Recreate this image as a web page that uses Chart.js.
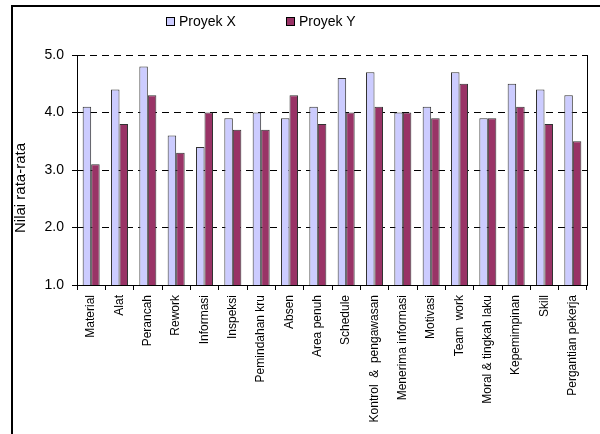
<!DOCTYPE html>
<html>
<head>
<meta charset="utf-8">
<script src="https://cdn.jsdelivr.net/npm/chart.js@4"></script>
<style>
    body { margin: 0; background: #fff; width: 600px; height: 434px; overflow: hidden; position: relative; font-family: "Liberation Sans", Arial, sans-serif; }
    #frame { position: absolute; left: 11px; top: 5px; width: 700px; height: 600px; border: 2px solid #000; }
    #wrap { position: absolute; left: 0; top: 0; width: 600px; height: 434px; }
    .leg { position: absolute; top: 13px; font-size: 14px; color: #000; line-height: 16px; }
    .leg .box { position: absolute; top: 4px; width: 7px; height: 7px; border: 1px solid #000; }
</style>
</head>
<body>
<div id="frame"></div>
<div id="wrap"><canvas id="grafik" width="600" height="434"></canvas></div>
<div class="leg" style="left:166px"><span class="box" style="background:#CCCCFF"></span><span style="margin-left:13px">Proyek X</span></div>
<div class="leg" style="left:286px"><span class="box" style="background:#993366"></span><span style="margin-left:13px">Proyek Y</span></div>
<script>
    const kategori = ["Material", "Alat", "Perancah", "Rework", "Informasi", "Inspeksi", "Pemindahan kru", "Absen", "Area penuh",
        "Schedule", "Kontrol  &  pengawasan", "Menerima informasi", "Motivasi", "Team  work", "Moral & tingkah laku",
        "Kepemimpinan", "Skill", "Pergantian pekerja"];
    const proyekX = [4.1, 4.4, 4.8, 3.6, 3.4, 3.9, 4.0, 3.9, 4.1, 4.6, 4.7, 4.0, 4.1, 4.7, 3.9, 4.5, 4.4, 4.3];
    const proyekY = [3.1, 3.8, 4.3, 3.3, 4.0, 3.7, 3.7, 4.3, 3.8, 4.0, 4.1, 4.0, 3.9, 4.5, 3.9, 4.1, 3.8, 3.5];
    const tickY = [1.0, 2.0, 3.0, 4.0, 5.0];

    const fontNama = '"Liberation Sans", Arial, sans-serif';

    // garis tepi kanan area plot + judul sumbu Y
    const hiasan = {
        id: "hiasan",
        afterDraw(chart) {
            const a = chart.chartArea;
            const c = chart.ctx;
            c.save();
            c.strokeStyle = "#000";
            c.lineWidth = 1;
            c.beginPath();
            c.moveTo(Math.round(a.right) + 0.5, a.top);
            c.lineTo(Math.round(a.right) + 0.5, a.bottom);
            c.stroke();
            c.translate(21, 188);
            c.rotate(-Math.PI / 2);
            c.fillStyle = "#000";
            c.font = "15px " + fontNama;
            c.textAlign = "center";
            c.textBaseline = "middle";
            c.fillText("Nilai rata-rata", 0, 0);
            c.restore();
        }
    };

    const ctx = document.getElementById("grafik").getContext("2d");
    new Chart(ctx, {
        type: "bar",
        data: {
            labels: kategori,
            datasets: [
                { label: "Proyek X", data: proyekX, backgroundColor: "#CCCCFF", borderColor: "#333", borderWidth: 1 },
                { label: "Proyek Y", data: proyekY, backgroundColor: "#993366", borderColor: "#333", borderWidth: 1 }
            ]
        },
        options: {
            responsive: false,
            animation: false,
            events: [],
            categoryPercentage: 0.6,
            barPercentage: 1.0,
            layout: { padding: { top: 55, right: 13, bottom: 0, left: 0 } },
            plugins: { legend: { display: false }, tooltip: { enabled: false } },
            scales: {
                x: {
                    afterFit(s) { s.height = 149; },
                    grid: { drawOnChartArea: false, tickLength: 5, color: "#000", tickColor: "#000" },
                    border: { color: "#000", width: 1 },
                    ticks: {
                        color: "#000", font: { family: fontNama, size: 12 },
                        minRotation: 90, maxRotation: 90, autoSkip: false, padding: 5
                    }
                },
                y: {
                    min: 1, max: 5,
                    afterFit(s) { s.width = 77; },
                    afterBuildTicks(s) { s.ticks = tickY.map(v => ({ value: v })); },
                    grid: {
                        color: c => (c.tick && c.tick.value === 1) ? "rgba(0,0,0,0)" : "#000",
                        tickBorderDash: [], tickColor: "#000", tickLength: 5
                    },
                    border: { color: "#000", width: 1, dash: [7, 5] },
                    ticks: {
                        color: "#000", font: { family: fontNama, size: 14 }, padding: 8,
                        callback: v => Number(v).toFixed(1)
                    }
                }
            }
        },
        plugins: [hiasan]
    });
</script>
</body>
</html>
